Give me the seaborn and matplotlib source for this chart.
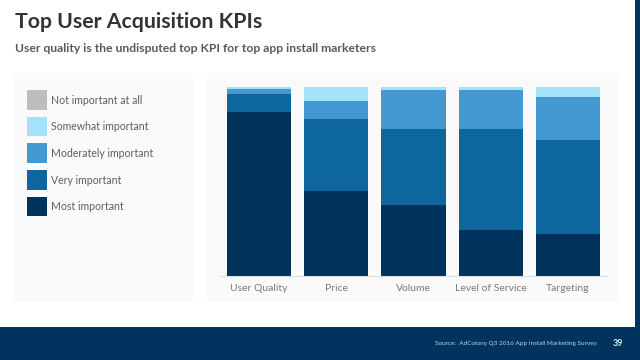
import numpy as np
import pandas as pd
import seaborn as sns
import matplotlib.pyplot as plt
from matplotlib.patches import Rectangle

# survey shares (%) per KPI
kpis = ['User Quality', 'Price', 'Volume', 'Level of Service', 'Targeting']
levels = ['Not important at all', 'Somewhat important', 'Moderately important',
          'Very important', 'Most important']
most_imp = [86.8, 45.0, 37.5, 24.3, 22.2]
very_imp = [9.3, 37.7, 40.0, 53.2, 49.5]
moderately_imp = [2.5, 9.7, 20.8, 20.8, 22.7]
somewhat_imp = [1.4, 7.6, 1.7, 1.7, 5.6]
not_imp = [0.0, 0.0, 0.0, 0.0, 0.0]

colors = ['#bdbdbd', '#a2e3fa', '#4398d2', '#0d679e', '#00335b']

# stacked bars by drawing cumulative totals, tallest first
stack = np.array([most_imp, very_imp, moderately_imp, somewhat_imp, not_imp])
cum = np.cumsum(stack, axis=0)  # rows: most, +very, +moderate, +somewhat, +not
rows = []
for i, lvl in enumerate(levels):
    for j, k in enumerate(kpis):
        rows.append({'kpi': k, 'level': lvl, 'value': cum[4 - i][j]})
df = pd.DataFrame(rows)

sns.set_theme(style='white')
plt.rcParams['font.family'] = ['Lato', 'DejaVu Sans']

W, H = 640, 360
fig = plt.figure(figsize=(6.4, 3.6), dpi=100)
fig.patch.set_facecolor('white')

def px(x0, y0, x1, y1):
    return [x0 / W, 1 - y1 / H, (x1 - x0) / W, (y1 - y0) / H]

def box(x0, y0, x1, y1, c, z=-10):
    b = px(x0, y0, x1, y1)
    fig.patches.append(Rectangle((b[0], b[1]), b[2], b[3], transform=fig.transFigure,
                                 facecolor=c, edgecolor='none', zorder=z))

# background panels and footer
box(13, 73, 193, 302, '#fafafa')
box(207, 73, 619, 302, '#fafafa')
box(0, 327, 640, 360, '#00345f')
box(635, 0, 640, 360, '#00345f')

ax = fig.add_axes(px(220, 86.7, 607, 276))
ax.set_zorder(2)
ax.set_facecolor('none')
sns.barplot(data=df, x='kpi', y='value', hue='level', hue_order=levels, order=kpis,
            palette=colors, dodge=False, width=0.83, saturation=1, linewidth=0,
            legend=False, ax=ax)
ax.set_xlim(-0.505, 4.505)
ax.set_ylim(0, 100)
ax.axhline(0, color='#dddddd', lw=0.8, clip_on=False)
sns.despine(ax=ax, left=True, bottom=True)
ax.set_yticks([])
ax.set_xlabel('')
ax.set_ylabel('')
ax.tick_params(axis='x', length=0, pad=6, labelsize=7.5, labelcolor='#7a7a7a')

# legend as in the slide: big squares, left panel
for i, (lvl, c) in enumerate(zip(levels, colors)):
    top = 90 + i * 26.7
    box(27, top, 46.5, top + 19.5, c, z=1)
    fig.text(51 / W, 1 - (top + 10) / H, lvl, fontsize=7.6, color='#5f5f5f', va='center')

fig.text(15 / W, 1 - 22 / H, 'Top User Acquisition KPIs', fontsize=15.3, fontweight='bold',
         color='#333333', va='center')
fig.text(15 / W, 1 - 48 / H, 'User quality is the undisputed top KPI for top app install marketers',
         fontsize=8.7, fontweight='bold', color='#5a5a5a', va='center')
fig.text(597 / W, 1 - 343 / H, 'Source:  AdColony Q3 2016 App Install Marketing Survey',
         fontsize=4.6, color='#b9d3ea', ha='right', va='center')
fig.text(613 / W, 1 - 343 / H, '39', fontsize=6.5, fontweight='bold', color='#e0ebf5',
         ha='left', va='center')

fig.savefig('out.png', dpi=100)
